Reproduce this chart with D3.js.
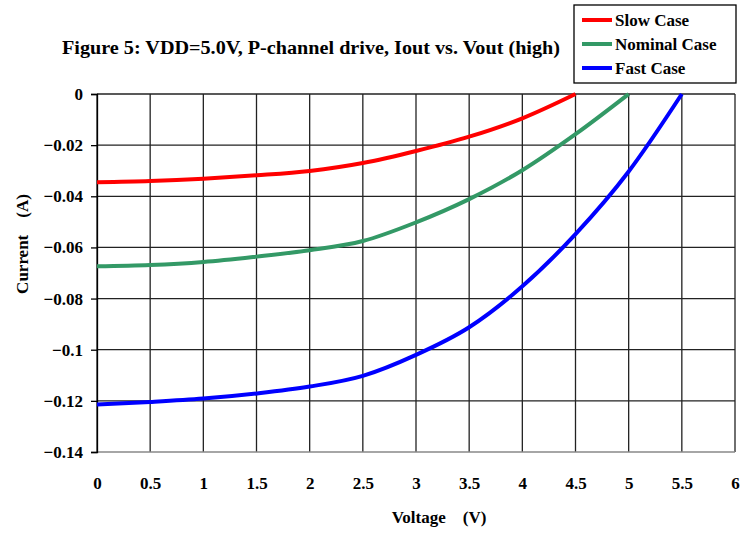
<!DOCTYPE html>
<html>
<head>
<meta charset="utf-8">
<script src="https://cdn.jsdelivr.net/npm/d3@7"></script>
<style>
  body { margin: 0; background: #fff; }
</style>
</head>
<body>
<div id="chart"></div>
<script>
const voltage = [0, 0.5, 1, 1.5, 2, 2.5, 3, 3.5, 4, 4.5, 5, 5.5];
const slowCase = [-0.0345, -0.0340, -0.0331, -0.0318, -0.0301, -0.0270, -0.0223, -0.0167, -0.0095, 0];
const nominalCase = [-0.0674, -0.0669, -0.0657, -0.0636, -0.0611, -0.0575, -0.0502, -0.0411, -0.0298, -0.0157, 0];
const fastCase = [-0.1214, -0.1204, -0.1191, -0.1171, -0.1144, -0.1102, -0.1020, -0.0912, -0.0752, -0.0548, -0.0303, 0];
const xTicks = [0, 0.5, 1, 1.5, 2, 2.5, 3, 3.5, 4, 4.5, 5, 5.5, 6];
const yTicks = [0, -0.02, -0.04, -0.06, -0.08, -0.1, -0.12, -0.14];

const series = [
  { name: "Slow Case", color: "#ff0000", values: slowCase },
  { name: "Nominal Case", color: "#339966", values: nominalCase },
  { name: "Fast Case", color: "#0000ff", values: fastCase }
];

const FONT = '"Liberation Serif", "Times New Roman", serif';
const width = 742, height = 533;
const margin = { top: 94, right: 7, bottom: 81, left: 97 };

const svg = d3.select("#chart").append("svg")
  .attr("width", width)
  .attr("height", height)
  .style("font-family", FONT);

const x = d3.scaleLinear().domain([0, 6]).range([margin.left, width - margin.right]);
const y = d3.scaleLinear().domain([-0.14, 0]).range([height - margin.bottom, margin.top]);

const label = (sel, size) => sel
  .style("font-family", FONT)
  .style("font-weight", "bold")
  .style("font-size", size + "px")
  .attr("fill", "#000");

// grid
const grid = svg.append("g").attr("stroke", "#222").attr("stroke-width", 1.3);
grid.selectAll("line.v").data(xTicks).join("line")
  .attr("class", "v")
  .attr("x1", d => x(d)).attr("x2", d => x(d))
  .attr("y1", y(0)).attr("y2", y(-0.14));
grid.selectAll("line.h").data(yTicks).join("line")
  .attr("class", "h")
  .attr("x1", x(0)).attr("x2", x(6))
  .attr("y1", d => y(d)).attr("y2", d => y(d))
  .attr("stroke", d => d === -0.14 ? "#888" : null);

// y axis
svg.append("g")
  .attr("transform", `translate(${x(0)},0)`)
  .call(d3.axisLeft(y).tickValues(yTicks).tickSize(6).tickPadding(8).tickFormat(d => d3.format("")(+d.toFixed(2))))
  .call(g => g.select(".domain").attr("stroke", "#000").attr("stroke-width", 1.3))
  .call(g => g.selectAll(".tick line").attr("stroke", "#000").attr("stroke-width", 1.3))
  .call(g => g.selectAll(".tick text").call(label, 17));

// x axis labels
svg.append("g")
  .attr("transform", `translate(0,${y(-0.14)})`)
  .call(d3.axisBottom(x).tickValues(xTicks).tickSize(0).tickPadding(25).tickFormat(d3.format("")))
  .call(g => g.select(".domain").remove())
  .call(g => g.selectAll(".tick text").call(label, 17));

// lines
const line = d3.line()
  .x((d, i) => x(voltage[i]))
  .y(d => y(d))
  .curve(d3.curveMonotoneX);

svg.append("g").selectAll("path").data(series).join("path")
  .attr("d", d => line(d.values))
  .attr("fill", "none")
  .attr("stroke", d => d.color)
  .attr("stroke-width", 4);

// title
svg.append("text")
  .attr("x", 62).attr("y", 54)
  .attr("textLength", 498)
  .attr("lengthAdjust", "spacingAndGlyphs")
  .call(label, 18)
  .text("Figure 5: VDD=5.0V, P-channel drive, Iout vs. Vout (high)");

// axis titles
svg.append("text")
  .attr("transform", "translate(28,244) rotate(-90)")
  .attr("text-anchor", "middle")
  .attr("xml:space", "preserve")
  .call(label, 17)
  .text("Current    (A)");

svg.append("text")
  .attr("x", 439).attr("y", 523)
  .attr("text-anchor", "middle")
  .attr("xml:space", "preserve")
  .call(label, 17)
  .text("Voltage    (V)");

// legend
const legend = svg.append("g");
legend.append("rect")
  .attr("x", 574).attr("y", 5)
  .attr("width", 162).attr("height", 78)
  .attr("fill", "#fff").attr("stroke", "#000").attr("stroke-width", 1.3);

series.forEach((s, i) => {
  const ly = 20 + i * 24;
  legend.append("line")
    .attr("x1", 582).attr("x2", 612)
    .attr("y1", ly).attr("y2", ly)
    .attr("stroke", s.color).attr("stroke-width", 4);
  legend.append("text")
    .attr("x", 615).attr("y", ly + 6)
    .call(label, 17)
    .text(s.name);
});
</script>
</body>
</html>
